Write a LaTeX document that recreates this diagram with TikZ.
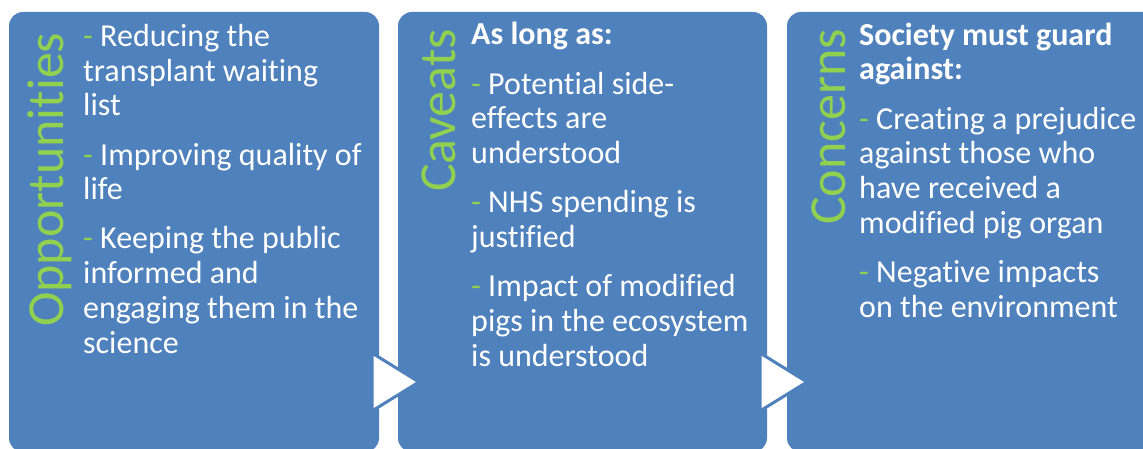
\documentclass[tikz,border=0pt]{standalone}
\usepackage{fontspec}
\setmainfont{Carlito}[Ligatures=CommonOff]
\definecolor{boxblue}{HTML}{4F81BD}
\definecolor{tgreen}{HTML}{92D050}
\tikzset{
  panel/.style={fill=boxblue, draw=none, rounded corners=14pt},
  title/.style={rotate=90, anchor=base west, inner sep=0pt, text=tgreen, font=\fontsize{52}{60}\selectfont},
  body/.style={anchor=base west, inner sep=0pt, text=white, align=left, font=\fontsize{32}{34.7}\selectfont},
  chevron/.style={fill=white, draw=boxblue, line width=3pt, line join=miter},
}
\newcommand{\gd}{\textcolor{tgreen}{-}}
\begin{document}
\begin{tikzpicture}[x=1pt,y=-1pt]
\useasboundingbox (0,0) rectangle (1143,449);
\fill[white] (0,0) rectangle (1143,449);
\path[panel] (9,12) rectangle (379,452);
\path[panel] (398,12) rectangle (767,452);
\path[panel] (787,12) rectangle (1160,452);
\node[title] (t1) at (63,327) {Opportunities};
\node[title] (t2) at (455,192) {Caveats};
\node[title] (t3) at (845,225) {Concerns};
\node[body] (b1) at (83,353) {\gd{} Reducing the\\ transplant waiting\\ list\\[14.5pt]
\gd{} Improving quality of\\ life\\[14.5pt]
\gd{} Keeping the public\\ informed and\\ engaging them in the\\ science};
\node[body] (b2) at (471,366) {\textbf{As long as:}\\[14.5pt]
\gd{} Potential side-\\ effects are\\ understood\\[14.5pt]
\gd{} NHS spending is\\ justified\\[14.5pt]
\gd{} Impact of modified\\ pigs in the ecosystem\\ is understood};
\node[body] (b3) at (859,317) {\textbf{Society must guard}\\ \textbf{against:}\\[14.5pt]
\gd{} Creating a prejudice\\ against those who\\ have received a\\ modified pig organ\\[14.5pt]
\gd{} Negative impacts\\ on the environment};
\path[chevron] (372,353) -- (419,382) -- (372,411) -- cycle;
\path[chevron] (760,353) -- (807,382) -- (760,411) -- cycle;
\end{tikzpicture}
\end{document}
